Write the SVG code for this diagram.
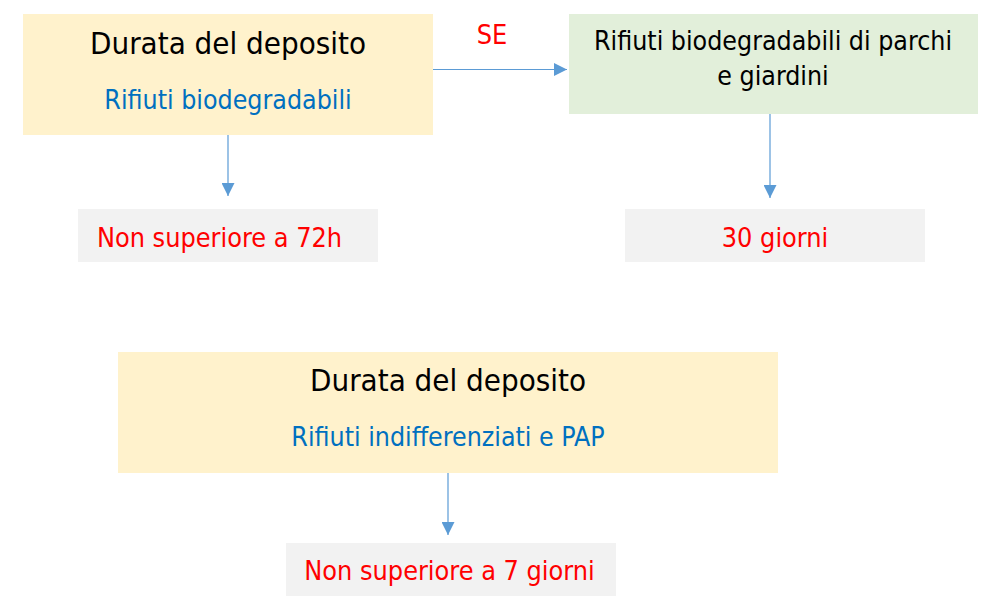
<svg xmlns="http://www.w3.org/2000/svg" width="988" height="612" viewBox="0 0 988 612">
<defs>
<style>
text{font-family:"DejaVu Sans Condensed","DejaVu Sans",sans-serif;text-anchor:middle}
.t{font-size:31px;fill:#000}
.b{font-size:26.5px;fill:#0070C0}
.r{font-size:26.8px;fill:#FF0000}
.g{font-size:26.5px;fill:#000}
.c{stroke:#5B9BD5;stroke-width:1.2;fill:none;marker-end:url(#ah)}
</style>
<marker id="ah" viewBox="0 0 12 12" refX="12" refY="6" markerWidth="13" markerHeight="13" markerUnits="userSpaceOnUse" orient="auto">
<path d="M0,0 L12,6 L0,12 Z" fill="#5B9BD5"/>
</marker>
</defs>
<rect width="988" height="612" fill="#fff"/>
<g id="n1"><rect x="23" y="14" width="410" height="121" fill="#FFF2CC"/>
<text class="t" x="228" y="54">Durata del deposito</text>
<text class="b" x="228" y="109">Rifiuti biodegradabili</text></g>
<g id="n2"><rect x="569" y="14" width="409" height="100" fill="#E2EFDA"/>
<text class="g" x="773" y="50">Rifiuti biodegradabili di parchi</text>
<text class="g" x="773" y="85">e giardini</text></g>
<g id="n3"><rect x="78" y="209" width="300" height="53" fill="#F2F2F2"/>
<text class="r" x="219.5" y="247">Non superiore a 72h</text></g>
<g id="n4"><rect x="625" y="209" width="300" height="53" fill="#F2F2F2"/>
<text class="r" x="775" y="247">30 giorni</text></g>
<g id="n5"><rect x="118" y="352" width="660" height="121" fill="#FFF2CC"/>
<text class="t" x="448" y="391">Durata del deposito</text>
<text class="b" x="448" y="446">Rifiuti indifferenziati e PAP</text></g>
<g id="n6"><rect x="286" y="543" width="330" height="53" fill="#F2F2F2"/>
<text class="r" x="449.5" y="580">Non superiore a 7 giorni</text></g>
<g id="lbl"><text class="r" x="492" y="44">SE</text></g>
<g id="connectors">
<path class="c" d="M433,69.5 H567"/>
<path class="c" d="M228,135 V196"/>
<path class="c" d="M770,114 V198"/>
<path class="c" d="M448,473 V535"/>
</g>
</svg>
